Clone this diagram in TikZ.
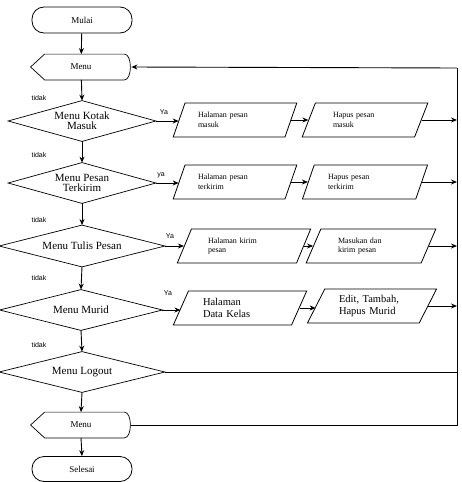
\documentclass[tikz,border=0pt]{standalone}
\usepackage{fontspec}
\setmainfont{Liberation Serif}
\newfontfamily\lblfont{Liberation Sans}
\usetikzlibrary{shapes.geometric,arrows.meta}
\begin{document}
\begin{tikzpicture}[x=1pt,y=-1pt,line width=0.8pt,
  arr/.style={-{Stealth[length=6pt,width=5pt]},line width=0.9pt},
  term/.style={draw,rounded corners=12pt,minimum width=100pt,minimum height=26pt,inner sep=0pt,font=\fontsize{9}{10}\selectfont},
  disp/.style={minimum width=100pt,minimum height=25pt,inner sep=0pt,font=\fontsize{9}{10}\selectfont},
  dec/.style={minimum height=40pt,inner sep=0pt,align=center,font=\fontsize{11}{11}\selectfont},
  io/.style={draw,trapezium,trapezium left angle=60,trapezium right angle=120,trapezium stretches=true,
     minimum height=34pt,inner sep=0pt,align=left,font=\fontsize{8}{9.5}\selectfont},
  iob/.style={io,font=\fontsize{10.5}{11.5}\selectfont},
  lbl/.style={inner sep=0pt,font=\lblfont\fontsize{7}{8}\selectfont}
]
\useasboundingbox (0,0) rectangle (461,482);
% main column
\node[term] (mulai) at (82,20) {Mulai};
\node[disp] (menu1) at (81,67) {Menu};
\draw[line width=0.7pt] (menu1.west) -- ([xshift=14pt]menu1.north west) -- ([xshift=-7pt]menu1.north east)
  .. controls ([xshift=1pt]menu1.north east) and ([xshift=1pt]menu1.south east) .. ([xshift=-7pt]menu1.south east)
  -- ([xshift=14pt]menu1.south west) -- cycle;
\node[dec,minimum width=147pt] (d1) at (82,121) {Menu Kotak\\[-1pt]Masuk};
\node[dec,minimum width=147pt] (d2) at (82,183) {Menu Pesan\\[-1pt]Terkirim};
\node[dec,minimum width=165pt,minimum height=41pt] (d3) at (82,246) {Menu Tulis Pesan};
\node[dec,minimum width=162pt] (d4) at (81,310) {Menu Murid};
\node[dec,minimum width=165pt] (d5) at (82,372) {Menu Logout};
\foreach \d in {d1,d2,d3,d4,d5}
  \draw[line width=0.7pt] (\d.north) -- (\d.east) -- (\d.south) -- (\d.west) -- cycle;
\node[disp] (menu2) at (81,425) {Menu};
\draw[line width=0.7pt] (menu2.west) -- ([xshift=14pt]menu2.north west) -- ([xshift=-7pt]menu2.north east)
  .. controls ([xshift=1pt]menu2.north east) and ([xshift=1pt]menu2.south east) .. ([xshift=-7pt]menu2.south east)
  -- ([xshift=14pt]menu2.south west) -- cycle;
\node[term,minimum height=25pt] (selesai) at (82,469) {Selesai};
% process boxes
\node[io,minimum width=124pt,text width=74pt] (p11) at (235,120) {Halaman pesan\\masuk};
\node[io,minimum width=126pt,text width=64pt] (p12) at (365,120) {Hapus pesan\\masuk};
\node[io,minimum width=124pt,text width=74pt] (p21) at (235,182) {Halaman pesan\\terkirim};
\node[io,minimum width=126pt,text width=74pt] (p22) at (365,182) {Hapus pesan\\terkirim};
\node[io,minimum width=134pt,text width=72pt] (p31) at (244,246) {Halaman kirim\\pesan};
\node[io,minimum width=130pt,text width=66pt] (p32) at (371,246) {Masukan dan\\kirim pesan};
\node[iob,minimum width=134pt,text width=74pt] (p41) at (240,308) {Halaman\\Data Kelas};
\node[iob,minimum width=130pt,text width=66pt] (p42) at (372,306) {Edit, Tambah,\\Hapus Murid};
% right bus
\coordinate (rt) at (457,68);
\coordinate (rb) at (457,423);
\draw (rt) -- (rb);
\draw[arr] (rt) -- (menu1.east);
% vertical flow
\draw[arr] (mulai) -- (menu1);
\draw[arr] (menu1) -- (d1.north);
\draw[arr] (d1.south) -- (d2.north);
\draw[arr] (d2.south) -- (d3.north);
\draw[arr] (d3.south) -- (d4.north);
\draw[arr] (d4.south) -- (d5.north);
\draw[arr] (d5.south) -- (menu2.north);
\draw[arr] (menu2.south) -- (selesai.north);
% horizontal flow
\foreach \d/\a/\b in {d1/p11/p12,d2/p21/p22,d3/p31/p32,d4/p41/p42}{
  \draw[arr] (\d.east) -- (\d.east -| \a.west);
  \draw[arr] (\a.east) -- (\a.east -| \b.west);
  \draw[arr] (\b.east) -- (\b.east -| rt);
}
\draw (d5.east) -- (d5.east -| rt);
\draw (menu2.east) -- (menu2.east -| rb) -- (rb);
% labels
\foreach \y/\n in {98/t1,155/t2,220/t3,278/t4,345/t5}
  \node[lbl] (\n) at (39,\y) {tidak};
\node[lbl] (y1) at (164,112) {Ya};
\node[lbl] (y2) at (161,175) {ya};
\node[lbl] (y3) at (170,236) {Ya};
\node[lbl] (y4) at (168,293) {Ya};
\end{tikzpicture}
\end{document}
